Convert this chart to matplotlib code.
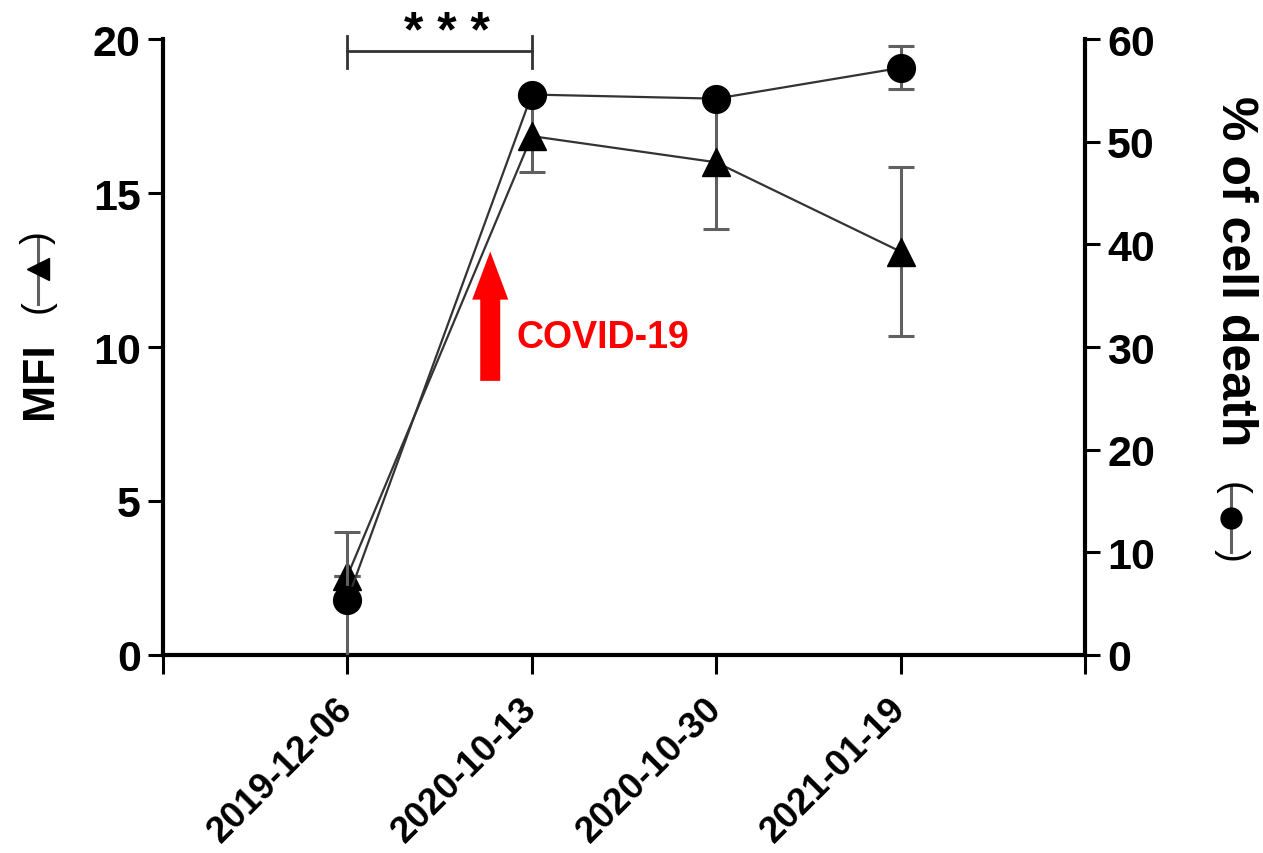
import matplotlib
matplotlib.use('Agg')
import matplotlib.pyplot as plt
from matplotlib.lines import Line2D

# data
dates = ['2019-12-06', '2020-10-13', '2020-10-30', '2021-01-19']
mfi = [2.56, 16.85, 16.0, 13.1]
mfi_err = [0.0, 1.17, 2.17, 2.75]
death = [5.36, 54.6, 54.2, 57.2]
death_err = [6.6, 0.0, 0.0, 2.1]
signif = '* * *'

plt.rcParams['font.family'] = ['Liberation Sans', 'DejaVu Sans']
plt.rcParams['font.weight'] = 'bold'

fig = plt.figure(figsize=(12.63, 8.54), dpi=100)
ax = fig.add_axes([0.129, 0.232, 0.730, 0.721])
ax2 = ax.twinx()

x = list(range(1, len(dates) + 1))
line_col = '#333333'
err_col = '#606060'

ax.errorbar(x, mfi, yerr=mfi_err, fmt='^', ms=20, color='black', ecolor=err_col,
            elinewidth=2.2, capsize=9.5, capthick=2.2, zorder=3)
ax.plot(x, mfi, '-', color=line_col, lw=1.6, zorder=2)
ax2.errorbar(x, death, yerr=death_err, fmt='o', ms=20, color='black', ecolor=err_col,
             elinewidth=2.2, capsize=9.5, capthick=2.2, zorder=3)
ax2.plot(x, death, '-', color=line_col, lw=1.6, zorder=2)

ax.set_xlim(0, 5)
ax.set_ylim(0, 20)
ax2.set_ylim(0, 60)
ax.set_yticks([0, 5, 10, 15, 20])
ax2.set_yticks([0, 10, 20, 30, 40, 50, 60])

for a in (ax, ax2):
    a.spines['top'].set_visible(False)
    for s in ('left', 'right', 'bottom'):
        a.spines[s].set_linewidth(3)
    a.tick_params(axis='y', width=2.2, length=11, labelsize=31, direction='out', pad=5)
ax.spines['right'].set_visible(False)
ax2.spines['left'].set_visible(False)
ax2.spines['bottom'].set_visible(False)
ax.tick_params(axis='x', width=2.2, length=14, pad=21, direction='out')
ax.set_xticks([0, 1, 2, 3, 4, 5])
ax.set_xticklabels([''] + dates + [''], rotation=45, ha='right', va='center',
                   rotation_mode='anchor', fontsize=26.5, fontweight='bold')
ax.patch.set_visible(False)

# significance bracket
ax.plot([1, 2], [19.6, 19.6], color='#333333', lw=2, clip_on=False)
for xx in (1, 2):
    ax.plot([xx, xx], [19.05, 20.1], color='#333333', lw=2, clip_on=False)
ax.text(1.54, 19.78, signif, ha='center', va='baseline', fontsize=36, fontweight='bold')

# COVID-19 arrow
ax.annotate('', xy=(1.775, 13.1), xytext=(1.775, 8.9),
            arrowprops=dict(arrowstyle='simple,head_length=1.73,head_width=1.3,tail_width=0.72',
                            mutation_scale=20, color='red', lw=0, shrinkA=0, shrinkB=0))
ax.text(1.915, 10.32, 'COVID-19', color='red', fontsize=27, fontweight='bold',
        ha='left', va='center')

# axis labels with legend glyphs
fig.text(0.032, 0.554, 'MFI', rotation=90, ha='center', va='center', fontsize=32, fontweight='bold')
fig.text(0.030, 0.6405, '(', rotation=90, ha='center', va='center', fontsize=28, fontweight='normal')
fig.text(0.030, 0.7213, ')', rotation=90, ha='center', va='center', fontsize=28, fontweight='normal')
fig.add_artist(Line2D([0.030, 0.030], [0.643, 0.721], color=err_col, lw=2.2, transform=fig.transFigure))
fig.add_artist(Line2D([0.030], [0.684], marker='<', ms=16, color='black', transform=fig.transFigure))

fig.text(0.978, 0.683, '% of cell death', rotation=-90, ha='center', va='center', fontsize=36, fontweight='bold')
fig.text(0.975, 0.4286, '(', rotation=-90, ha='center', va='center', fontsize=28, fontweight='normal')
fig.text(0.975, 0.350, ')', rotation=-90, ha='center', va='center', fontsize=28, fontweight='normal')
fig.add_artist(Line2D([0.975, 0.975], [0.3525, 0.4286], color=err_col, lw=2.2, transform=fig.transFigure))
fig.add_artist(Line2D([0.975], [0.392], marker='o', ms=15, color='black', transform=fig.transFigure))

fig.savefig('out.png', dpi=100)
